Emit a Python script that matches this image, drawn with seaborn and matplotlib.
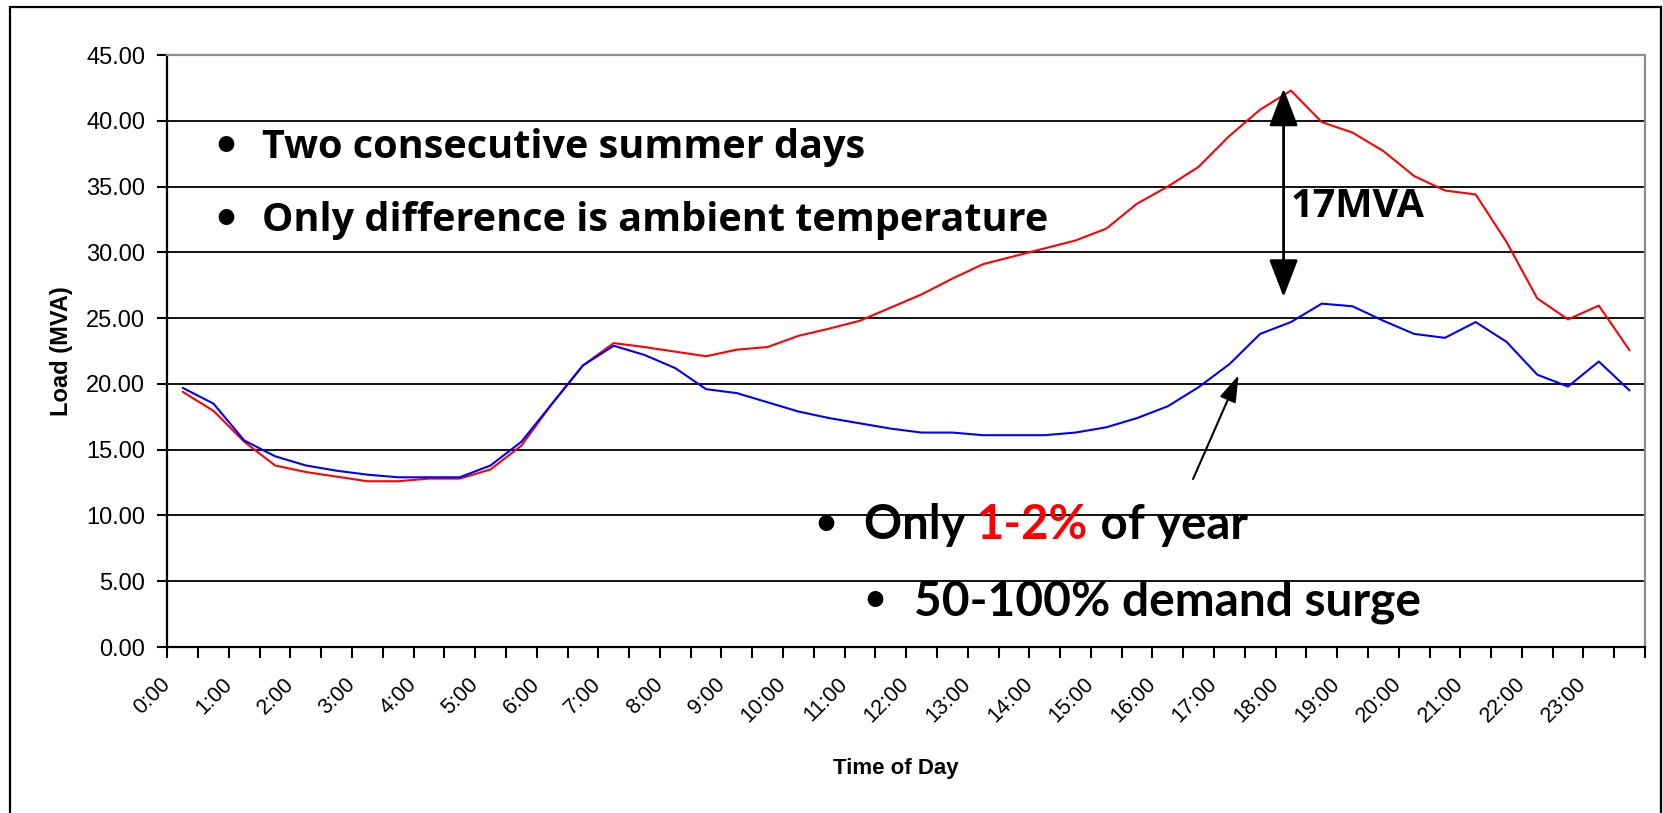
import matplotlib
matplotlib.use('Agg')
import matplotlib.pyplot as plt
from matplotlib.patches import Rectangle
from matplotlib.ticker import FixedLocator, MultipleLocator, FormatStrFormatter
import pandas as pd
import seaborn as sns

# Half-hour slots (start of each slot)
SLOTS = [
    "0:00", "0:30", "1:00", "1:30", "2:00", "2:30", "3:00", "3:30",
    "4:00", "4:30", "5:00", "5:30", "6:00", "6:30", "7:00", "7:30",
    "8:00", "8:30", "9:00", "9:30", "10:00", "10:30", "11:00", "11:30",
    "12:00", "12:30", "13:00", "13:30", "14:00", "14:30", "15:00", "15:30",
    "16:00", "16:30", "17:00", "17:30", "18:00", "18:30", "19:00", "19:30",
    "20:00", "20:30", "21:00", "21:30", "22:00", "22:30", "23:00", "23:30",
]

# Load (MVA), hot summer day
HOT_DAY = [
    19.4, 17.95, 15.6, 13.8, 13.3, 12.95, 12.6, 12.6,
    12.8, 12.8, 13.5, 15.3, 18.5, 21.4, 23.1, 22.8,
    22.45, 22.1, 22.6, 22.8, 23.65, 24.2, 24.8, 25.8,
    26.8, 28.0, 29.1, 29.7, 30.3, 30.9, 31.8, 33.7,
    35.0, 36.5, 38.85, 40.85, 42.3, 39.9, 39.1, 37.7,
    35.8, 34.7, 34.4, 30.8, 26.5, 24.9, 25.95, 22.55,
]

# Load (MVA), milder summer day
MILD_DAY = [
    19.7, 18.5, 15.7, 14.5, 13.8, 13.4, 13.1, 12.9,
    12.9, 12.9, 13.8, 15.6, 18.5, 21.4, 22.9, 22.2,
    21.2, 19.6, 19.3, 18.6, 17.9, 17.4, 17.0, 16.6,
    16.3, 16.3, 16.1, 16.1, 16.1, 16.3, 16.7, 17.4,
    18.3, 19.75, 21.5, 23.8, 24.7, 26.1, 25.9, 24.8,
    23.8, 23.5, 24.7, 23.2, 20.7, 19.8, 21.7, 19.5,
]

Y_TICKS = [0, 5, 10, 15, 20, 25, 30, 35, 40, 45]

# ðŸ”§ Style
sns.set_style('white')
plt.rcParams['font.family'] = ['Liberation Sans', 'DejaVu Sans']
for key in ['text.color', 'axes.labelcolor', 'xtick.color', 'ytick.color']:
    plt.rcParams[key] = 'black'

W, H = 1663, 813
fig = plt.figure(figsize=(W / 100, H / 100), dpi=100)
ax = fig.add_axes([167.3 / W, 1 - 647 / H, (1645 - 167.3) / W, (647 - 55) / H])


def slot_hours(s):
    h, m = s.split(':')
    return int(h) + int(m) / 60


# ðŸ“¥ Build long table; points sit in the middle of each half-hour slot
centers = [slot_hours(s) + 0.25 for s in SLOTS]
df = pd.concat([
    pd.DataFrame({'hour': centers, 'load': HOT_DAY, 'day': 'Hot day'}),
    pd.DataFrame({'hour': centers, 'load': MILD_DAY, 'day': 'Mild day'}),
])

sns.lineplot(data=df, x='hour', y='load', hue='day', hue_order=['Hot day', 'Mild day'],
             palette={'Hot day': '#FF0000', 'Mild day': '#0000FF'},
             estimator=None, legend=False, linewidth=1.5, ax=ax)

# ðŸ“Š Axes
ax.set_xlim(0, 24)
ax.set_ylim(0, 45)
hour_ticks = [slot_hours(s) for s in SLOTS if s.endswith(':00')]
hour_labels = [s for s in SLOTS if s.endswith(':00')]
ax.xaxis.set_major_locator(FixedLocator(hour_ticks))
ax.set_xticklabels(hour_labels)
ax.xaxis.set_minor_locator(MultipleLocator(0.5))
ax.yaxis.set_major_locator(FixedLocator(Y_TICKS))
ax.yaxis.set_major_formatter(FormatStrFormatter('%.2f'))

ax.tick_params(axis='x', which='both', direction='out', length=8, width=1.5,
               color='black', bottom=True)
ax.tick_params(axis='x', which='major', labelsize=15.5, pad=16.5)
ax.tick_params(axis='y', direction='out', length=7, width=1.5, color='black',
               left=True, labelsize=17, pad=9)
for lab in ax.get_xticklabels():
    lab.set_rotation(45)
    lab.set_ha('right')
    lab.set_va('center')
    lab.set_rotation_mode('anchor')

ax.set_axisbelow(True)
ax.yaxis.grid(True, color='black', linewidth=1.3)
ax.xaxis.grid(False)
for side in ['left', 'bottom']:
    ax.spines[side].set_color('black')
    ax.spines[side].set_linewidth(1.6)
for side in ['top', 'right']:
    ax.spines[side].set_color('#8c8c8c')
    ax.spines[side].set_linewidth(1.6)

ax.set_xlabel('Time of Day', fontsize=16, fontweight='bold')
ax.set_ylabel('Load (MVA)', fontsize=17, fontweight='bold')
ax.xaxis.set_label_coords(0.493, -0.188)
ax.yaxis.set_label_coords(-0.0635, 0.5)

# ðŸ“ Annotations
top_font = dict(family=['Open Sans', 'DejaVu Sans'], fontweight='bold', color='black')
low_font = dict(family=['Lato', 'DejaVu Sans'], fontweight='bold')
dot_font = dict(family=['Lato', 'DejaVu Sans'], fontweight='bold', color='black',
                ha='center', va='baseline', fontsize=26)

ax.text(0.954, 37.42, '\u2022', **dot_font)
ax.text(1.54, 37.2, 'Two consecutive summer days', fontsize=28.5, ha='left', va='baseline', **top_font)
ax.text(0.954, 31.87, '\u2022', **dot_font)
ax.text(1.54, 31.6, 'Only difference is ambient temperature', fontsize=28.5, ha='left', va='baseline', **top_font)

ax.text(10.70, 8.58, '\u2022', **dot_font)
t1 = ax.text(11.32, 8.2, 'Only ', fontsize=34, ha='left', va='baseline', color='black', **low_font)
t2 = ax.annotate('1-2%', xy=(1, 0), xycoords=t1, fontsize=34, ha='left', va='bottom',
                 color='#FF0000', **low_font)
ax.annotate(' of year', xy=(1, 0), xycoords=t2, fontsize=34, ha='left', va='bottom',
            color='black', **low_font)
ax.text(11.50, 2.80, '\u2022', **dot_font)
ax.text(12.13, 2.43, '50-100% demand surge', fontsize=34.5, ha='left', va='baseline',
        color='black', **low_font)

ax.text(18.24, 32.7, '17MVA', fontsize=28.5, ha='left', va='baseline', **top_font)
ax.annotate('', xy=(18.13, 42.45), xytext=(18.13, 26.6),
            arrowprops=dict(arrowstyle='<|-|>,head_length=1.3,head_width=0.5',
                            color='black', lw=2, shrinkA=0, shrinkB=0, mutation_scale=18))
ax.annotate('', xy=(17.40, 20.67), xytext=(16.66, 12.77),
            arrowprops=dict(arrowstyle='-|>,head_length=1.1,head_width=0.35',
                            color='black', lw=1.5, shrinkA=0, shrinkB=0, mutation_scale=15))

# Outer chart frame
fig.add_artist(Rectangle((10 / W, -0.05), (1661 - 10) / W, 1.05 - 7 / H,
                         transform=fig.transFigure, fill=False, edgecolor='black', linewidth=1.6))

fig.savefig('out.png', dpi=100)
